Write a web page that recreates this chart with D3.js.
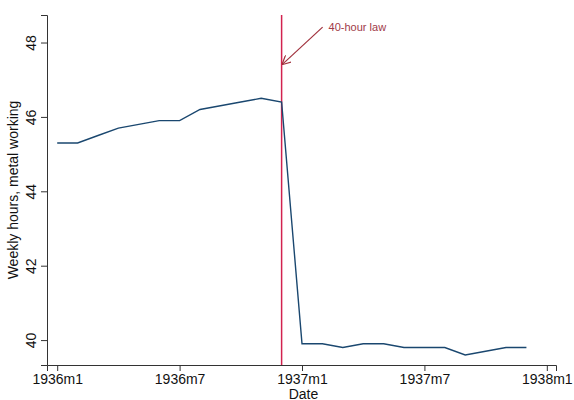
<!DOCTYPE html>
<html>
<head>
<meta charset="utf-8">
<script src="https://cdn.jsdelivr.net/npm/d3@7"></script>
<style>
  body { margin: 0; background: #fff; }
  text { font-family: "Liberation Sans", Arial, sans-serif; }
</style>
</head>
<body>
<div id="chart"></div>
<script>
// months since 1936m1
const months = [0, 1, 2, 3, 4, 5, 6, 7, 8, 9, 10, 11, 12, 13, 14, 15, 16, 17, 18, 19, 20, 21, 22, 23];
const hours = [45.3, 45.3, 45.5, 45.7, 45.8, 45.9, 45.9, 46.2, 46.3, 46.4, 46.5, 46.4,
               39.9, 39.9, 39.8, 39.9, 39.9, 39.8, 39.8, 39.8, 39.6, 39.7, 39.8, 39.8];
const xTicks = [0, 6, 12, 18, 24];
const xTickLabels = ['1936m1', '1936m7', '1937m1', '1937m7', '1938m1'];
const yTicks = [40, 42, 44, 46, 48];
const lawMonth = 11;
const lawLabel = '40-hour law';

const W = 574, H = 400;
const margin = { top: 15, right: 18, bottom: 35, left: 47 };
const width = W - margin.left - margin.right;
const height = H - margin.top - margin.bottom;

const svg = d3.select('#chart').append('svg')
  .attr('width', W).attr('height', H);
const g = svg.append('g').attr('transform', `translate(${margin.left},${margin.top})`);

const x = d3.scaleLinear().domain([-0.5, 24.45]).range([0, width]);
const y = d3.scaleLinear().domain([39.33, 48.74]).range([height, 0]);

// axes
const xAxis = g.append('g').attr('transform', `translate(0,${height})`)
  .call(d3.axisBottom(x).tickValues(xTicks).tickSize(6).tickPadding(3)
    .tickFormat((d, i) => xTickLabels[i]));
xAxis.select('.domain').attr('stroke', '#333');
xAxis.selectAll('.tick line').attr('stroke', '#333');
xAxis.selectAll('text').style('font-size', '14px').attr('fill', '#111');

const yAxis = g.append('g')
  .call(d3.axisLeft(y).tickValues(yTicks).tickSize(6).tickPadding(3));
yAxis.select('.domain').attr('stroke', '#333');
yAxis.selectAll('.tick line').attr('stroke', '#333');
yAxis.selectAll('text')
  .style('font-size', '14px').attr('fill', '#111')
  .attr('text-anchor', 'middle')
  .attr('transform', 'rotate(-90)')
  .attr('x', 0).attr('y', -11).attr('dy', 0);

// axis titles
g.append('text')
  .attr('x', width / 2 + 2).attr('y', height + 34)
  .attr('text-anchor', 'middle').style('font-size', '14px').attr('fill', '#111')
  .text('Date');
g.append('text')
  .attr('transform', `translate(${-29},${height / 2}) rotate(-90)`)
  .attr('text-anchor', 'middle').style('font-size', '14px').attr('fill', '#111')
  .text('Weekly hours, metal working');

// vertical law line
g.append('line')
  .attr('x1', x(lawMonth)).attr('x2', x(lawMonth))
  .attr('y1', 0).attr('y2', height)
  .attr('stroke', '#d2224f').attr('stroke-width', 1.5);

// series
const line = d3.line().x((d, i) => x(months[i])).y(d => y(d));
g.append('path').datum(hours)
  .attr('d', line)
  .attr('fill', 'none')
  .attr('stroke', '#1a476f').attr('stroke-width', 1.4);

// annotation arrow
svg.append('defs').append('marker')
  .attr('id', 'arr').attr('viewBox', '0 0 10 10')
  .attr('refX', 9).attr('refY', 5)
  .attr('markerWidth', 9).attr('markerHeight', 9)
  .attr('markerUnits', 'userSpaceOnUse')
  .attr('orient', 'auto')
  .append('path').attr('d', 'M0,0 L10,5 L0,10')
  .attr('fill', 'none').attr('stroke', '#a0303c').attr('stroke-width', 1.3);

const ax = x(lawMonth), ay = y(47.42);
g.append('line')
  .attr('x1', ax + 41).attr('y1', ay - 37)
  .attr('x2', ax + 1).attr('y2', ay)
  .attr('stroke', '#a0303c').attr('stroke-width', 1.2)
  .attr('marker-end', 'url(#arr)');

g.append('text')
  .attr('x', ax + 47).attr('y', ay - 33)
  .style('font-size', '11px').attr('fill', '#a03a48')
  .text(lawLabel);
</script>
</body>
</html>
